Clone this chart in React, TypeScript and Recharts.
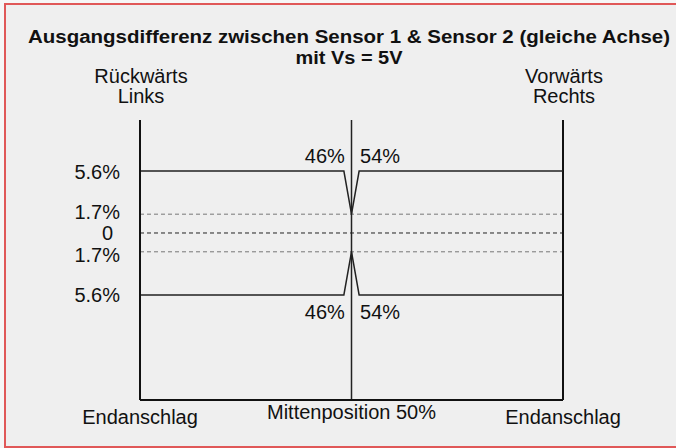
import React from 'react';
import { ComposedChart, Line, XAxis, YAxis, ReferenceLine, LabelList } from 'recharts';

// Travel position in % of full stroke (0 = left end stop, 100 = right end stop)
const positions = [0, 48.2, 50, 51.8, 100];
// Output difference levels in %
const upperLevels = [5.6, 5.6, 1.7, 5.6, 5.6];
const lowerLevels = [-5.6, -5.6, -1.7, -5.6, -5.6];
const cornerLabels = ['', '46%', '', '54%', ''];
const yTicks = [5.6, 1.7, 0, -1.7, -5.6];
const xTicks = [0, 50, 100];
const xTickLabels = ['Endanschlag', 'Mittenposition 50%', 'Endanschlag'];
const dashedLevels = [1.7, 0, -1.7];
const titleLines = ['Ausgangsdifferenz zwischen Sensor 1 & Sensor 2 (gleiche Achse)', 'mit Vs = 5V'];
const leftHeader = ['Rückwärts', 'Links'];
const rightHeader = ['Vorwärts', 'Rechts'];

const data = positions.map((p, i) => ({
  pos: p,
  upper: upperLevels[i],
  lower: lowerLevels[i],
  label: cornerLabels[i],
}));

const FONT = '"Liberation Sans", Arial, Helvetica, sans-serif';
const INK = '#111';

const fmtPct = (v: number) => (v === 0 ? '0' : `${Math.abs(v)}%`);

const YTick = (props: any) => {
  const { x, y, payload } = props;
  const v = payload.value;
  // small outward nudge for the inner labels so they do not crowd the "0" label
  const nudge = v === 0 || Math.abs(v) > 2 ? 0 : v > 0 ? -3 : 3;
  return (
    <text x={v === 0 ? x - 7 : x} y={y + nudge} dy={7.5} textAnchor="end" fontSize={20} fill={INK} fontFamily={FONT}>
      {fmtPct(v)}
    </text>
  );
};

const XTick = (props: any) => {
  const { x, y, payload } = props;
  const idx = xTicks.indexOf(payload.value);
  const dy = payload.value === 50 ? 19 : 24;
  return (
    <text x={x} y={y} dy={dy} textAnchor="middle" fontSize={20} fill={INK} fontFamily={FONT}>
      {xTickLabels[idx]}
    </text>
  );
};

const makeCorner = (above: boolean) => (props: any) => {
  const { x, y, value, index } = props;
  if (!value) return null;
  const left = positions[index] < 50;
  return (
    <text
      x={x + 1}
      y={above ? y - 8 : y + 24}
      textAnchor={left ? 'end' : 'start'}
      fontSize={20}
      fill={INK}
      fontFamily={FONT}
    >
      {value}
    </text>
  );
};

export default function App() {
  return (
    <div style={{ position: 'absolute', left: 0, top: 0, width: 676, height: 448, background: '#f6f6f6', overflow: 'hidden' }}>
      <div
        style={{
          position: 'absolute',
          left: 4,
          top: 3,
          width: 720,
          height: 445,
          boxSizing: 'border-box',
          border: '2px solid #e05858',
          background: '#efefef',
        }}
      />
      <div style={{ position: 'absolute', left: 0, top: 0 }}>
        <ComposedChart width={676} height={448} data={data} margin={{ top: 120, right: 113, bottom: 0, left: 0 }}>
          <XAxis
            dataKey="pos"
            type="number"
            domain={[0, 100]}
            ticks={xTicks}
            tickLine={false}
            tickSize={0}
            tickMargin={0}
            height={48}
            axisLine={{ stroke: INK, strokeWidth: 2 }}
            tick={<XTick />}
            interval={0}
          />
          <YAxis
            type="number"
            domain={[-15.09, 10.21]}
            ticks={yTicks}
            tickLine={false}
            tickSize={0}
            tickMargin={20}
            width={140}
            axisLine={{ stroke: INK, strokeWidth: 2 }}
            tick={<YTick />}
            interval={0}
          />
          {dashedLevels.map((lv) => (
            <ReferenceLine
              key={lv}
              y={lv}
              stroke={lv === 0 ? '#222' : '#777'}
              strokeWidth={1}
              strokeDasharray="4 3"
            />
          ))}
          <ReferenceLine x={50} stroke="#222" strokeWidth={1.5} />
          <ReferenceLine x={100} stroke={INK} strokeWidth={2} />
          <Line dataKey="upper" type="linear" stroke="#222" strokeWidth={1.5} dot={false} isAnimationActive={false}>
            <LabelList dataKey="label" content={makeCorner(true)} />
          </Line>
          <Line dataKey="lower" type="linear" stroke="#222" strokeWidth={1.5} dot={false} isAnimationActive={false}>
            <LabelList dataKey="label" content={makeCorner(false)} />
          </Line>
        </ComposedChart>
      </div>
      <svg width={676} height={448} style={{ position: 'absolute', left: 0, top: 0, pointerEvents: 'none' }}>
        <text
          x={349}
          y={43}
          textAnchor="middle"
          fontSize={18}
          fontWeight="bold"
          fill={INK}
          fontFamily={FONT}
          textLength={642}
          lengthAdjust="spacingAndGlyphs"
        >
          {titleLines[0]}
        </text>
        <text
          x={349}
          y={63.5}
          textAnchor="middle"
          fontSize={18}
          fontWeight="bold"
          fill={INK}
          fontFamily={FONT}
          textLength={107}
          lengthAdjust="spacingAndGlyphs"
        >
          {titleLines[1]}
        </text>
        {leftHeader.map((t, i) => (
          <text key={t} x={141} y={83 + i * 20} textAnchor="middle" fontSize={20} fill={INK} fontFamily={FONT}>
            {t}
          </text>
        ))}
        {rightHeader.map((t, i) => (
          <text key={t} x={564} y={83 + i * 20} textAnchor="middle" fontSize={20} fill={INK} fontFamily={FONT}>
            {t}
          </text>
        ))}
      </svg>
    </div>
  );
}
